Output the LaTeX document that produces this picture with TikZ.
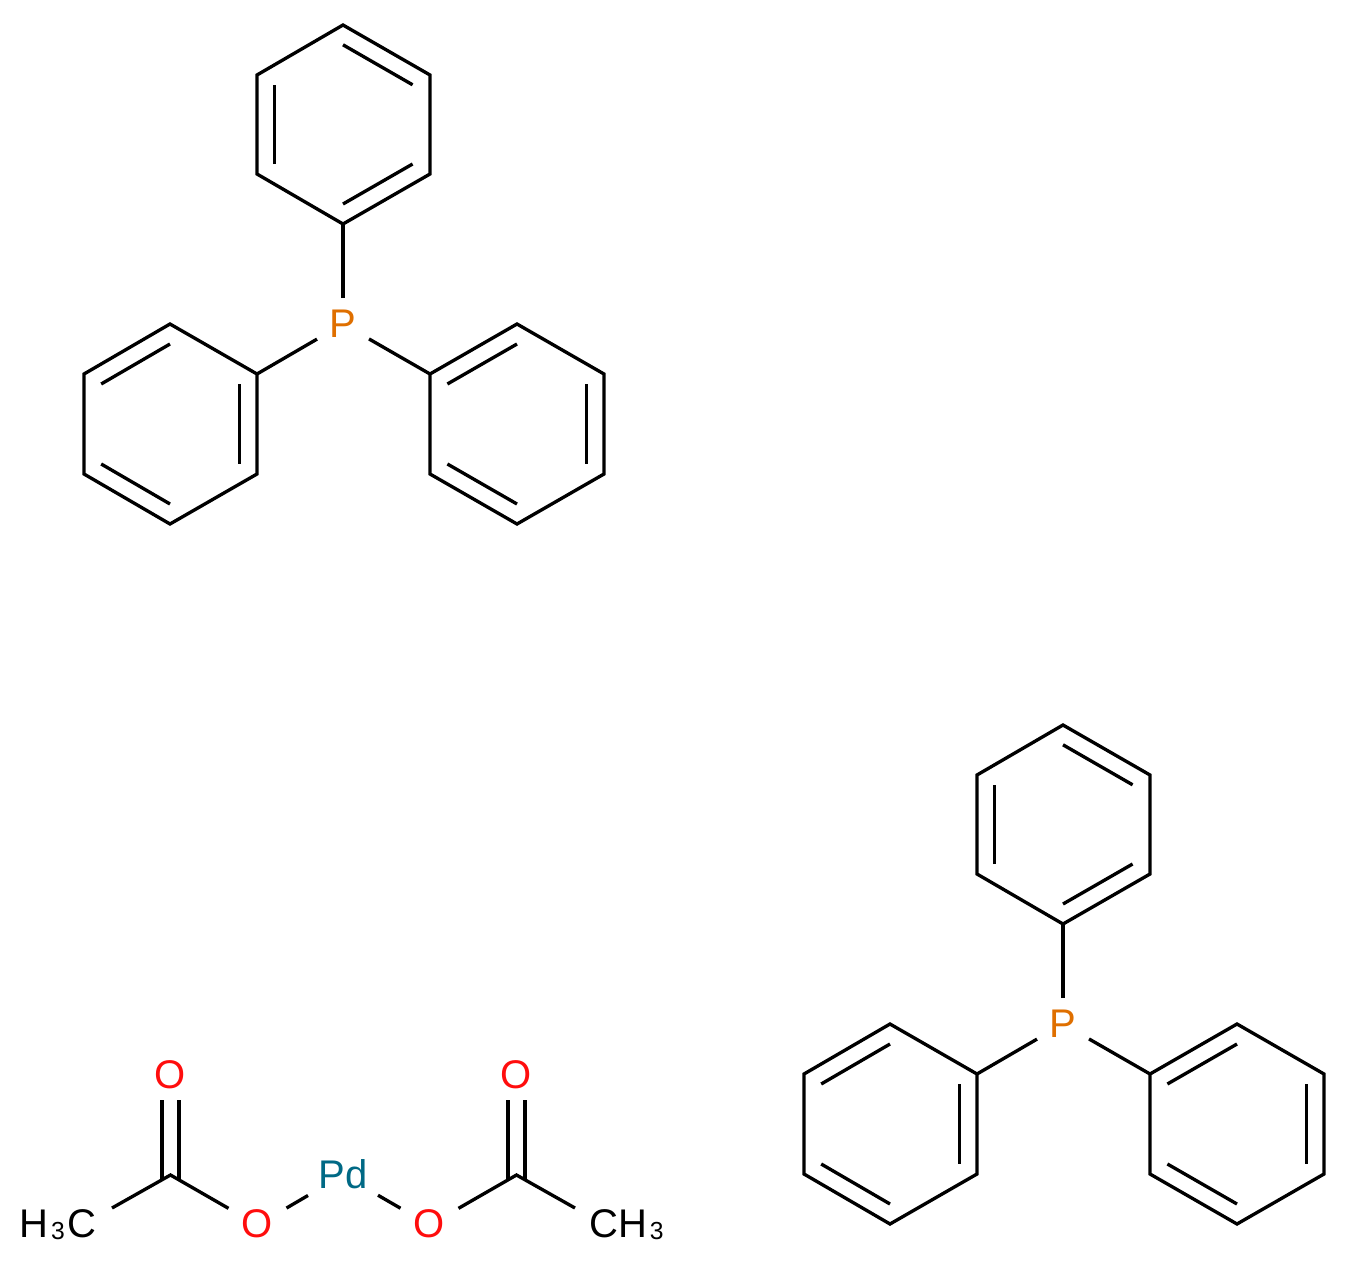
\documentclass[tikz,border=0pt]{standalone}
\usepackage{fontspec}
\setmainfont{Liberation Sans}
\usetikzlibrary{calc}
\definecolor{oxygen}{HTML}{FF0D0D}
\definecolor{phosphorus}{HTML}{DF6F00}
\definecolor{palladium}{HTML}{006985}
\newcommand{\subthree}{\kern2pt{\fontsize{18.5}{19}\selectfont\raisebox{-1.5pt}{3}}\kern2.2pt}
\begin{document}
\begin{tikzpicture}[x=0.75pt,y=-0.75pt,
        node_style/.style={rectangle,inner sep=0pt,outer sep=0pt,text height=21pt,text depth=2.5pt,font=\fontsize{30}{31}\selectfont},
        o_style/.style={node_style,text=oxygen,minimum width=43.5pt,minimum height=36pt},
        p_style/.style={node_style,text=phosphorus,text depth=0.5pt,minimum width=39pt,minimum height=39pt},
        pd_style/.style={node_style,text=palladium,text depth=0.5pt,minimum width=52.5pt,minimum height=36pt},
        methyl_style/.style={node_style,text=black,minimum width=#1,minimum height=25.5pt},
        edge_style/.style={draw=black,line width=2.5pt,line join=miter}]
        \useasboundingbox (0,0) rectangle (1347,1264);

        % first phosphine
        \node [p_style](p1) at (343,324) {P};
        \coordinate (c1) at (343,124);
        \coordinate (a1) at (343,224);
        \coordinate (a2) at (257,174);
        \coordinate (a3) at (257,75);
        \coordinate (a4) at (343,25);
        \coordinate (a5) at (430,75);
        \coordinate (a6) at (430,174);
        \coordinate (c2) at (170,424);
        \coordinate (b1) at (257,374);
        \coordinate (b2) at (170,324);
        \coordinate (b3) at (84,374);
        \coordinate (b4) at (84,474);
        \coordinate (b5) at (170,524);
        \coordinate (b6) at (257,474);
        \coordinate (c3) at (517,424);
        \coordinate (d1) at (430,374);
        \coordinate (d2) at (517,324);
        \coordinate (d3) at (604,374);
        \coordinate (d4) at (604,474);
        \coordinate (d5) at (517,524);
        \coordinate (d6) at (430,474);
        \draw [edge_style] (p1) -- (a1);
        \draw [edge_style] (p1) -- (b1);
        \draw [edge_style] (p1) -- (d1);
        \draw [edge_style] (a1) -- (a2) -- (a3) -- (a4) -- (a5) -- (a6) -- cycle;
        \draw [edge_style] (b1) -- (b2) -- (b3) -- (b4) -- (b5) -- (b6) -- cycle;
        \draw [edge_style] (d1) -- (d2) -- (d3) -- (d4) -- (d5) -- (d6) -- cycle;
        \draw [edge_style] ($(c1)!0.8!(a6)$) -- ($(c1)!0.8!(a1)$);
        \draw [edge_style] ($(c1)!0.8!(a2)$) -- ($(c1)!0.8!(a3)$);
        \draw [edge_style] ($(c1)!0.8!(a4)$) -- ($(c1)!0.8!(a5)$);
        \draw [edge_style] ($(c2)!0.8!(b1)$) -- ($(c2)!0.8!(b6)$);
        \draw [edge_style] ($(c2)!0.8!(b2)$) -- ($(c2)!0.8!(b3)$);
        \draw [edge_style] ($(c2)!0.8!(b4)$) -- ($(c2)!0.8!(b5)$);
        \draw [edge_style] ($(c3)!0.8!(d1)$) -- ($(c3)!0.8!(d2)$);
        \draw [edge_style] ($(c3)!0.8!(d3)$) -- ($(c3)!0.8!(d4)$);
        \draw [edge_style] ($(c3)!0.8!(d5)$) -- ($(c3)!0.8!(d6)$);

        % second phosphine
        \node [p_style](p2) at (1063,1024) {P};
        \coordinate (c4) at (1063,824);
        \coordinate (e1) at (1063,924);
        \coordinate (e2) at (977,874);
        \coordinate (e3) at (977,775);
        \coordinate (e4) at (1063,725);
        \coordinate (e5) at (1150,775);
        \coordinate (e6) at (1150,874);
        \coordinate (c5) at (890,1124);
        \coordinate (f1) at (977,1074);
        \coordinate (f2) at (890,1024);
        \coordinate (f3) at (804,1074);
        \coordinate (f4) at (804,1174);
        \coordinate (f5) at (890,1224);
        \coordinate (f6) at (977,1174);
        \coordinate (c6) at (1237,1124);
        \coordinate (g1) at (1150,1074);
        \coordinate (g2) at (1237,1024);
        \coordinate (g3) at (1324,1074);
        \coordinate (g4) at (1324,1174);
        \coordinate (g5) at (1237,1224);
        \coordinate (g6) at (1150,1174);
        \draw [edge_style] (p2) -- (e1);
        \draw [edge_style] (p2) -- (f1);
        \draw [edge_style] (p2) -- (g1);
        \draw [edge_style] (e1) -- (e2) -- (e3) -- (e4) -- (e5) -- (e6) -- cycle;
        \draw [edge_style] (f1) -- (f2) -- (f3) -- (f4) -- (f5) -- (f6) -- cycle;
        \draw [edge_style] (g1) -- (g2) -- (g3) -- (g4) -- (g5) -- (g6) -- cycle;
        \draw [edge_style] ($(c4)!0.8!(e6)$) -- ($(c4)!0.8!(e1)$);
        \draw [edge_style] ($(c4)!0.8!(e2)$) -- ($(c4)!0.8!(e3)$);
        \draw [edge_style] ($(c4)!0.8!(e4)$) -- ($(c4)!0.8!(e5)$);
        \draw [edge_style] ($(c5)!0.8!(f1)$) -- ($(c5)!0.8!(f6)$);
        \draw [edge_style] ($(c5)!0.8!(f2)$) -- ($(c5)!0.8!(f3)$);
        \draw [edge_style] ($(c5)!0.8!(f4)$) -- ($(c5)!0.8!(f5)$);
        \draw [edge_style] ($(c6)!0.8!(g1)$) -- ($(c6)!0.8!(g2)$);
        \draw [edge_style] ($(c6)!0.8!(g3)$) -- ($(c6)!0.8!(g4)$);
        \draw [edge_style] ($(c6)!0.8!(g5)$) -- ($(c6)!0.8!(g6)$);

        % palladium acetate
        \node [pd_style](pd) at (343,1175) {Pd};
        \node [o_style](o1) at (170.5,1076) {O};
        \node [o_style](o2) at (257.5,1225) {O};
        \node [o_style](o3) at (429.5,1225) {O};
        \node [o_style](o4) at (516.5,1076) {O};
        \node [methyl_style=81pt](m1) at (58,1225) {H\subthree C};
        \node [methyl_style=79.5pt](m2) at (628,1225) {CH\subthree};
        \coordinate (k1) at (170.5,1175);
        \coordinate (k2) at (516.5,1175);
        \draw [edge_style] (m1.north east) -- (k1) -- (o2);
        \draw [edge_style] (o2) -- (pd);
        \draw [edge_style] (pd) -- (o3);
        \draw [edge_style] (o3) -- (k2) -- (m2.north west);
        \draw [edge_style] ([xshift=-6.4pt]o1.south) -- ([xshift=-6.4pt,yshift=-3pt]k1);
        \draw [edge_style] ([xshift=6.4pt]o1.south) -- ([xshift=6.4pt,yshift=-3pt]k1);
        \draw [edge_style] ([xshift=-6.4pt]o4.south) -- ([xshift=-6.4pt,yshift=-3pt]k2);
        \draw [edge_style] ([xshift=6.4pt]o4.south) -- ([xshift=6.4pt,yshift=-3pt]k2);
\end{tikzpicture}
\end{document}
